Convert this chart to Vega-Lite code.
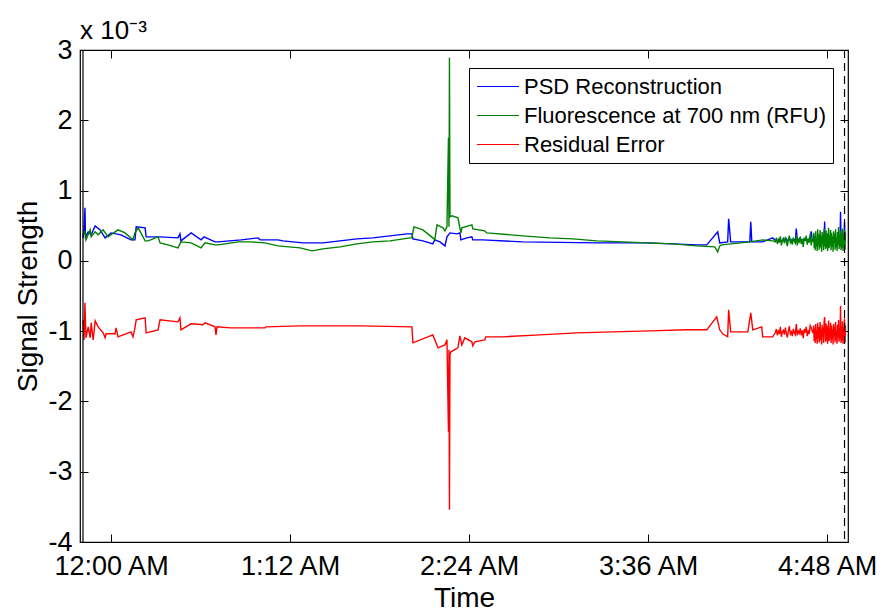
{
 "$schema": "https://vega.github.io/schema/vega-lite/v6.json",
 "width": 768,
 "height": 492,
 "autosize": {"type": "none"},
 "padding": {"left": 80, "top": 50, "right": 40, "bottom": 70},
 "background": "white",
 "config": {
  "font": "Liberation Sans",
  "view": {"stroke": "black", "strokeWidth": 1.2},
  "axis": {"grid": false, "domain": false, "tickColor": "black", "tickSize": -8, "labelColor": "black", "titleColor": "black", "labelFont": "Liberation Sans", "titleFont": "Liberation Sans", "labelFontSize": 27, "titleFontSize": 28, "titleFontWeight": "normal"}
 },
 "title": {"text": "x 10⁻³", "anchor": "start", "frame": "group", "fontSize": 26, "fontWeight": "normal", "font": "Liberation Sans", "color": "black", "offset": -8},
 "datasets": {
  "psd": [
   {"t":-11.3,"v":0.327},{"t":-10.9,"v":0.441},{"t":-10.5,"v":0.754},{"t":-10.3,"v":0.341},{"t":-9.2,"v":0.413},{"t":-8.0,"v":0.370},{"t":-6.4,"v":0.498},{"t":-4.4,"v":0.441},{"t":-2.4,"v":0.327},{"t":0,"v":0.398},{"t":4.0,"v":0.370},{"t":8.0,"v":0.299},{"t":9.6,"v":0.299},{"t":10.1,"v":0.484},{"t":13.7,"v":0.469},{"t":14.1,"v":0.341},{"t":19.7,"v":0.341},{"t":26.9,"v":0.327},{"t":27.7,"v":0.384},{"t":28.1,"v":0.284},{"t":32.2,"v":0.398},{"t":36.2,"v":0.299},{"t":37.4,"v":0.341},{"t":41.8,"v":0.270},{"t":43.0,"v":0.270},{"t":52.3,"v":0.299},{"t":59.1,"v":0.327},{"t":59.9,"v":0.299},{"t":67.1,"v":0.299},{"t":69.1,"v":0.284},{"t":77.2,"v":0.256},{"t":85.2,"v":0.256},{"t":92.1,"v":0.284},{"t":98.9,"v":0.313},{"t":105.3,"v":0.327},{"t":112.2,"v":0.356},{"t":119.0,"v":0.384},{"t":121.0,"v":0.384},{"t":121.4,"v":0.313},{"t":125.4,"v":0.284},{"t":129.4,"v":0.242},{"t":130.2,"v":0.299},{"t":132.3,"v":0.270},{"t":134.3,"v":0.213},{"t":135.1,"v":0.341},{"t":136.3,"v":0.398},{"t":139.1,"v":0.384},{"t":140.3,"v":0.398},{"t":140.7,"v":0.299},{"t":143.1,"v":0.327},{"t":145.1,"v":0.341},{"t":145.5,"v":0.299},{"t":149.5,"v":0.299},{"t":165.6,"v":0.270},{"t":195.4,"v":0.256},{"t":215.5,"v":0.256},{"t":235.6,"v":0.228},{"t":239.6,"v":0.228},{"t":244.0,"v":0.413},{"t":244.8,"v":0.256},{"t":248.0,"v":0.270},{"t":248.4,"v":0.597},{"t":249.2,"v":0.270},{"t":256.9,"v":0.270},{"t":257.3,"v":0.555},{"t":257.7,"v":0.270},{"t":262.1,"v":0.270},{"t":266.1,"v":0.327},
   {"t":267.2,"v":0.29},{"t":267.6,"v":0.30},{"t":268.0,"v":0.28},{"t":268.4,"v":0.29},{"t":268.8,"v":0.31},{"t":269.2,"v":0.30},{"t":269.6,"v":0.28},{"t":270.0,"v":0.29},{"t":270.4,"v":0.32},{"t":270.8,"v":0.30},{"t":271.2,"v":0.29},{"t":271.6,"v":0.31},{"t":272.0,"v":0.28},{"t":272.4,"v":0.30},{"t":272.8,"v":0.33},{"t":273.2,"v":0.29},{"t":273.6,"v":0.30},{"t":274.0,"v":0.28},{"t":274.4,"v":0.31},{"t":274.8,"v":0.30},{"t":275.2,"v":0.29},{"t":275.6,"v":0.46},{"t":276.0,"v":0.30},{"t":276.4,"v":0.29},{"t":276.8,"v":0.31},{"t":277.2,"v":0.33},{"t":277.6,"v":0.28},{"t":278.0,"v":0.30},{"t":278.4,"v":0.29},{"t":278.8,"v":0.31},{"t":279.2,"v":0.30},{"t":279.6,"v":0.32},{"t":280.0,"v":0.29},{"t":280.4,"v":0.30},{"t":280.8,"v":0.31},{"t":281.2,"v":0.34},{"t":281.6,"v":0.42},{"t":282.0,"v":0.30},{"t":282.4,"v":0.29},
   {"t":282.6,"v":0.30},{"t":282.8,"v":0.27},{"t":283.0,"v":0.32},{"t":283.2,"v":0.26},{"t":283.4,"v":0.33},{"t":283.6,"v":0.28},{"t":283.8,"v":0.31},{"t":284.0,"v":0.25},{"t":284.2,"v":0.34},{"t":284.4,"v":0.29},{"t":284.6,"v":0.31},{"t":284.8,"v":0.27},{"t":285.0,"v":0.30},{"t":285.2,"v":0.33},{"t":285.4,"v":0.28},{"t":285.6,"v":0.32},{"t":285.8,"v":0.26},{"t":286.0,"v":0.31},{"t":286.2,"v":0.29},{"t":286.4,"v":0.33},{"t":286.6,"v":0.27},{"t":286.8,"v":0.34},{"t":287.0,"v":0.56},{"t":287.2,"v":0.30},{"t":287.4,"v":0.28},{"t":287.6,"v":0.33},{"t":287.8,"v":0.27},{"t":288.0,"v":0.31},{"t":288.2,"v":0.26},{"t":288.4,"v":0.30},{"t":288.6,"v":0.35},{"t":288.8,"v":0.28},{"t":289.0,"v":0.32},{"t":289.2,"v":0.29},{"t":289.4,"v":0.34},{"t":289.6,"v":0.26},{"t":289.8,"v":0.31},{"t":290.0,"v":0.29},{"t":290.2,"v":0.33},{"t":290.4,"v":0.27},{"t":290.6,"v":0.32},{"t":290.8,"v":0.30},{"t":291.0,"v":0.34},{"t":291.2,"v":0.27},{"t":291.4,"v":0.33},{"t":291.6,"v":0.29},{"t":291.8,"v":0.31},{"t":292.0,"v":0.26},{"t":292.2,"v":0.33},{"t":292.4,"v":0.30},{"t":292.6,"v":0.35},{"t":292.8,"v":0.28},{"t":293.0,"v":0.32},{"t":293.2,"v":0.29},{"t":293.4,"v":0.70},{"t":293.6,"v":0.27},{"t":293.8,"v":0.31},{"t":294.0,"v":0.28},{"t":294.2,"v":0.34},{"t":294.4,"v":0.26},{"t":294.6,"v":0.32},{"t":294.8,"v":0.30},{"t":295.0,"v":0.55},{"t":295.2,"v":0.28},{"t":295.4,"v":0.31}
  ],
  "fl": [
   {"t":-11.3,"v":0.370},{"t":-10.5,"v":0.413},{"t":-10.1,"v":0.299},{"t":-8.4,"v":0.441},{"t":-8.0,"v":0.341},{"t":-6.4,"v":0.413},{"t":-5.2,"v":0.370},{"t":-3.2,"v":0.441},{"t":-1.2,"v":0.341},{"t":1.6,"v":0.413},{"t":2.8,"v":0.441},{"t":5.6,"v":0.398},{"t":8.8,"v":0.299},{"t":9.6,"v":0.398},{"t":10.9,"v":0.469},{"t":13.7,"v":0.284},{"t":14.9,"v":0.284},{"t":18.9,"v":0.341},{"t":19.7,"v":0.256},{"t":22.9,"v":0.228},{"t":26.9,"v":0.185},{"t":28.1,"v":0.270},{"t":32.2,"v":0.256},{"t":36.2,"v":0.185},{"t":37.8,"v":0.256},{"t":41.8,"v":0.228},{"t":43.0,"v":0.228},{"t":45.8,"v":0.242},{"t":51.1,"v":0.270},{"t":56.3,"v":0.270},{"t":61.9,"v":0.256},{"t":67.1,"v":0.213},{"t":76.0,"v":0.185},{"t":80.8,"v":0.142},{"t":85.2,"v":0.171},{"t":92.1,"v":0.199},{"t":98.9,"v":0.242},{"t":105.3,"v":0.270},{"t":112.2,"v":0.284},{"t":120.2,"v":0.327},{"t":121.0,"v":0.327},{"t":121.8,"v":0.484},{"t":125.4,"v":0.441},{"t":129.4,"v":0.327},{"t":130.2,"v":0.299},{"t":131.1,"v":0.512},{"t":133.5,"v":0.469},{"t":134.3,"v":0.427},{"t":135.1,"v":0.484},{"t":135.7,"v":1.750},{"t":135.9,"v":0.484},{"t":136.1,"v":2.888},{"t":136.3,"v":0.626},{"t":137.1,"v":0.640},{"t":139.5,"v":0.612},{"t":140.7,"v":0.398},{"t":141.1,"v":0.469},{"t":145.1,"v":0.512},{"t":145.5,"v":0.455},{"t":150.3,"v":0.427},{"t":151.1,"v":0.398},{"t":165.6,"v":0.356},{"t":176.5,"v":0.327},{"t":185.7,"v":0.313},{"t":195.4,"v":0.284},{"t":205.8,"v":0.270},{"t":215.5,"v":0.256},{"t":225.9,"v":0.242},{"t":235.6,"v":0.213},{"t":242.8,"v":0.199},{"t":244.0,"v":0.128},{"t":244.8,"v":0.213},{"t":245.6,"v":0.228},{"t":256.9,"v":0.270},{"t":262.1,"v":0.299},{"t":266.1,"v":0.284},
   {"t":267.2,"v":0.27},{"t":267.6,"v":0.33},{"t":268.0,"v":0.24},{"t":268.4,"v":0.30},{"t":268.8,"v":0.26},{"t":269.2,"v":0.35},{"t":269.6,"v":0.22},{"t":270.0,"v":0.29},{"t":270.4,"v":0.31},{"t":270.8,"v":0.25},{"t":271.2,"v":0.34},{"t":271.6,"v":0.27},{"t":272.0,"v":0.21},{"t":272.4,"v":0.30},{"t":272.8,"v":0.36},{"t":273.2,"v":0.26},{"t":273.6,"v":0.29},{"t":274.0,"v":0.23},{"t":274.4,"v":0.33},{"t":274.8,"v":0.28},{"t":275.2,"v":0.25},{"t":275.6,"v":0.37},{"t":276.0,"v":0.22},{"t":276.4,"v":0.30},{"t":276.8,"v":0.27},{"t":277.2,"v":0.34},{"t":277.6,"v":0.24},{"t":278.0,"v":0.31},{"t":278.4,"v":0.20},{"t":278.8,"v":0.33},{"t":279.2,"v":0.28},{"t":279.6,"v":0.36},{"t":280.0,"v":0.23},{"t":280.4,"v":0.30},{"t":280.8,"v":0.26},{"t":281.2,"v":0.38},{"t":281.6,"v":0.22},{"t":282.0,"v":0.31},{"t":282.4,"v":0.27},
   {"t":282.6,"v":0.40},{"t":282.8,"v":0.18},{"t":283.0,"v":0.36},{"t":283.2,"v":0.15},{"t":283.4,"v":0.42},{"t":283.6,"v":0.20},{"t":283.8,"v":0.33},{"t":284.0,"v":0.14},{"t":284.2,"v":0.45},{"t":284.4,"v":0.22},{"t":284.6,"v":0.38},{"t":284.8,"v":0.16},{"t":285.0,"v":0.30},{"t":285.2,"v":0.44},{"t":285.4,"v":0.19},{"t":285.6,"v":0.35},{"t":285.8,"v":0.13},{"t":286.0,"v":0.41},{"t":286.2,"v":0.24},{"t":286.4,"v":0.37},{"t":286.6,"v":0.15},{"t":286.8,"v":0.46},{"t":287.0,"v":0.21},{"t":287.2,"v":0.34},{"t":287.4,"v":0.17},{"t":287.6,"v":0.43},{"t":287.8,"v":0.19},{"t":288.0,"v":0.39},{"t":288.2,"v":0.14},{"t":288.4,"v":0.32},{"t":288.6,"v":0.47},{"t":288.8,"v":0.18},{"t":289.0,"v":0.36},{"t":289.2,"v":0.22},{"t":289.4,"v":0.44},{"t":289.6,"v":0.15},{"t":289.8,"v":0.40},{"t":290.0,"v":0.20},{"t":290.2,"v":0.35},{"t":290.4,"v":0.13},{"t":290.6,"v":0.42},{"t":290.8,"v":0.25},{"t":291.0,"v":0.38},{"t":291.2,"v":0.16},{"t":291.4,"v":0.45},{"t":291.6,"v":0.19},{"t":291.8,"v":0.33},{"t":292.0,"v":0.14},{"t":292.2,"v":0.41},{"t":292.4,"v":0.23},{"t":292.6,"v":0.48},{"t":292.8,"v":0.17},{"t":293.0,"v":0.36},{"t":293.2,"v":0.20},{"t":293.4,"v":0.43},{"t":293.6,"v":0.15},{"t":293.8,"v":0.39},{"t":294.0,"v":0.18},{"t":294.2,"v":0.46},{"t":294.4,"v":0.14},{"t":294.6,"v":0.37},{"t":294.8,"v":0.21},{"t":295.0,"v":0.44},{"t":295.2,"v":0.16},{"t":295.4,"v":0.40}
  ],
  "res": [
   {"t":-11.3,"v":-0.839},{"t":-10.9,"v":-1.124},{"t":-10.5,"v":-0.597},{"t":-10.1,"v":-1.095},{"t":-9.2,"v":-0.939},{"t":-8.4,"v":-1.095},{"t":-8.0,"v":-0.882},{"t":-7.2,"v":-1.124},{"t":-6.4,"v":-0.853},{"t":-5.2,"v":-0.939},{"t":-3.2,"v":-1.024},{"t":-2.4,"v":-1.095},{"t":-2.0,"v":-1.038},{"t":1.6,"v":-1.038},{"t":2.0,"v":-0.953},{"t":2.8,"v":-1.081},{"t":8.0,"v":-1.010},{"t":8.8,"v":-1.081},{"t":9.6,"v":-0.953},{"t":10.1,"v":-0.839},{"t":13.7,"v":-0.811},{"t":14.1,"v":-1.024},{"t":18.9,"v":-0.981},{"t":19.7,"v":-0.839},{"t":26.9,"v":-0.868},{"t":27.7,"v":-0.811},{"t":28.1,"v":-0.981},{"t":32.2,"v":-0.896},{"t":37.0,"v":-0.910},{"t":37.8,"v":-0.882},{"t":41.8,"v":-0.939},{"t":42.2,"v":-1.053},{"t":42.6,"v":-0.939},{"t":48.2,"v":-0.953},{"t":61.9,"v":-0.953},{"t":62.3,"v":-0.939},{"t":76.0,"v":-0.925},{"t":101.3,"v":-0.925},{"t":121.0,"v":-0.939},{"t":121.4,"v":-1.166},{"t":129.4,"v":-1.053},{"t":131.5,"v":-1.238},{"t":134.3,"v":-1.195},{"t":135.1,"v":-1.124},{"t":135.7,"v":-2.432},{"t":135.9,"v":-1.266},{"t":136.1,"v":-3.542},{"t":136.3,"v":-1.337},{"t":136.7,"v":-1.294},{"t":139.5,"v":-1.238},{"t":140.3,"v":-1.067},{"t":141.1,"v":-1.195},{"t":142.3,"v":-1.095},{"t":145.1,"v":-1.152},{"t":145.5,"v":-1.209},{"t":146.3,"v":-1.152},{"t":150.3,"v":-1.124},{"t":150.7,"v":-1.081},{"t":157.6,"v":-1.081},{"t":172.5,"v":-1.053},{"t":187.3,"v":-1.024},{"t":201.8,"v":-1.010},{"t":216.7,"v":-0.996},{"t":231.6,"v":-0.981},{"t":239.6,"v":-0.981},{"t":243.6,"v":-0.797},{"t":244.8,"v":-0.981},{"t":246.0,"v":-1.038},{"t":248.0,"v":-1.081},{"t":248.4,"v":-0.697},{"t":249.2,"v":-1.010},{"t":256.1,"v":-1.010},{"t":257.3,"v":-0.740},{"t":258.1,"v":-0.981},{"t":261.7,"v":-0.939},{"t":262.1,"v":-1.081},{"t":266.1,"v":-1.081},
   {"t":267.2,"v":-1.02},{"t":267.6,"v":-0.97},{"t":268.0,"v":-1.06},{"t":268.4,"v":-1.00},{"t":268.8,"v":-1.04},{"t":269.2,"v":-0.94},{"t":269.6,"v":-1.08},{"t":270.0,"v":-1.01},{"t":270.4,"v":-0.99},{"t":270.8,"v":-1.05},{"t":271.2,"v":-0.95},{"t":271.6,"v":-1.03},{"t":272.0,"v":-1.09},{"t":272.4,"v":-1.00},{"t":272.8,"v":-0.93},{"t":273.2,"v":-1.04},{"t":273.6,"v":-1.01},{"t":274.0,"v":-1.07},{"t":274.4,"v":-0.97},{"t":274.8,"v":-1.02},{"t":275.2,"v":-1.05},{"t":275.6,"v":-0.90},{"t":276.0,"v":-1.06},{"t":276.4,"v":-1.00},{"t":276.8,"v":-1.03},{"t":277.2,"v":-0.96},{"t":277.6,"v":-1.06},{"t":278.0,"v":-0.99},{"t":278.4,"v":-1.10},{"t":278.8,"v":-0.97},{"t":279.2,"v":-1.02},{"t":279.6,"v":-0.94},{"t":280.0,"v":-1.07},{"t":280.4,"v":-1.00},{"t":280.8,"v":-1.04},{"t":281.2,"v":-0.92},{"t":281.6,"v":-0.95},{"t":282.0,"v":-1.00},{"t":282.4,"v":-1.03},
   {"t":282.6,"v":-0.92},{"t":282.8,"v":-1.14},{"t":283.0,"v":-0.96},{"t":283.2,"v":-1.17},{"t":283.4,"v":-0.90},{"t":283.6,"v":-1.12},{"t":283.8,"v":-0.99},{"t":284.0,"v":-1.18},{"t":284.2,"v":-0.88},{"t":284.4,"v":-1.10},{"t":284.6,"v":-0.94},{"t":284.8,"v":-1.16},{"t":285.0,"v":-1.01},{"t":285.2,"v":-0.87},{"t":285.4,"v":-1.13},{"t":285.6,"v":-0.97},{"t":285.8,"v":-1.19},{"t":286.0,"v":-0.91},{"t":286.2,"v":-1.08},{"t":286.4,"v":-0.95},{"t":286.6,"v":-1.17},{"t":286.8,"v":-0.86},{"t":287.0,"v":-0.80},{"t":287.2,"v":-0.98},{"t":287.4,"v":-1.15},{"t":287.6,"v":-0.89},{"t":287.8,"v":-1.13},{"t":288.0,"v":-0.93},{"t":288.2,"v":-1.18},{"t":288.4,"v":-1.00},{"t":288.6,"v":-0.85},{"t":288.8,"v":-1.14},{"t":289.0,"v":-0.96},{"t":289.2,"v":-1.10},{"t":289.4,"v":-0.88},{"t":289.6,"v":-1.17},{"t":289.8,"v":-0.92},{"t":290.0,"v":-1.12},{"t":290.2,"v":-0.97},{"t":290.4,"v":-1.19},{"t":290.6,"v":-0.90},{"t":290.8,"v":-1.07},{"t":291.0,"v":-0.94},{"t":291.2,"v":-1.16},{"t":291.4,"v":-0.87},{"t":291.6,"v":-1.13},{"t":291.8,"v":-0.99},{"t":292.0,"v":-1.18},{"t":292.2,"v":-0.91},{"t":292.4,"v":-1.09},{"t":292.6,"v":-0.84},{"t":292.8,"v":-1.15},{"t":293.0,"v":-0.96},{"t":293.2,"v":-1.12},{"t":293.4,"v":-0.64},{"t":293.6,"v":-1.17},{"t":293.8,"v":-0.93},{"t":294.0,"v":-1.14},{"t":294.2,"v":-0.86},{"t":294.4,"v":-1.18},{"t":294.6,"v":-0.95},{"t":294.8,"v":-1.11},{"t":295.0,"v":-0.82},{"t":295.2,"v":-1.16},{"t":295.4,"v":-0.92}
  ],
  "markers": [{"t": -11.3, "kind": "start"}, {"t": 295.0, "kind": "end"}]
 },
 "resolve": {"axis": {"x": "independent", "y": "independent"}},
 "layer": [
  {
   "data": {"name": "psd"},
   "mark": {"type": "line", "strokeWidth": 1.4, "clip": true},
   "encoding": {
    "x": {"field": "t", "type": "quantitative", "scale": {"domain": [-12.5, 296.4], "nice": false, "zero": false},
          "axis": {"orient": "bottom", "values": [0, 72, 144, 216, 288], "labelExpr": "timeFormat(datetime(2000, 0, 1, 0, datum.value), '%-I:%M %p')", "labelFlush": false, "labelOverlap": false, "labelPadding": 19, "title": "Time", "titlePadding": 5}},
    "y": {"field": "v", "type": "quantitative", "scale": {"domain": [-4, 3], "nice": false, "zero": false},
          "axis": {"orient": "left", "values": [-4, -3, -2, -1, 0, 1, 2, 3], "labelExpr": "'' + datum.value", "labelFlush": false, "labelOverlap": false, "labelPadding": 16, "title": "Signal Strength", "titlePadding": 5}},
    "color": {"datum": "PSD Reconstruction", "type": "nominal",
              "scale": {"domain": ["PSD Reconstruction", "Fluorescence at 700 nm (RFU)", "Residual Error"], "range": ["#0000ff", "#008000", "#ff0000"]},
              "legend": {"orient": "none", "legendX": 389, "legendY": 18, "title": null, "strokeColor": "black", "fillColor": "white", "padding": 7, "symbolType": "M-1,0L3,0", "symbolSize": 441, "symbolStrokeWidth": 1.2, "labelFontSize": 22, "labelFont": "Liberation Sans", "labelColor": "black", "labelOffset": 25, "labelLimit": 0, "rowPadding": 6}}
   }
  },
  {
   "data": {"name": "fl"},
   "mark": {"type": "line", "strokeWidth": 1.4, "clip": true},
   "encoding": {
    "x": {"field": "t", "type": "quantitative", "axis": {"orient": "top", "values": [0, 72, 144, 216, 288], "labels": false, "title": null}},
    "y": {"field": "v", "type": "quantitative", "axis": {"orient": "right", "values": [-4, -3, -2, -1, 0, 1, 2, 3], "labels": false, "title": null}},
    "color": {"datum": "Fluorescence at 700 nm (RFU)", "type": "nominal"}
   }
  },
  {
   "data": {"name": "res"},
   "mark": {"type": "line", "strokeWidth": 1.4, "clip": true},
   "encoding": {
    "x": {"field": "t", "type": "quantitative", "axis": null},
    "y": {"field": "v", "type": "quantitative", "axis": null},
    "color": {"datum": "Residual Error", "type": "nominal"}
   }
  },
  {
   "data": {"name": "markers"},
   "transform": [{"filter": "datum.kind == 'start'"}],
   "mark": {"type": "rule", "color": "black", "strokeWidth": 1.2},
   "encoding": {"x": {"field": "t", "type": "quantitative", "axis": null}}
  },
  {
   "data": {"name": "markers"},
   "transform": [{"filter": "datum.kind == 'end'"}],
   "mark": {"type": "rule", "color": "black", "strokeWidth": 1.2, "strokeDash": [8, 5]},
   "encoding": {"x": {"field": "t", "type": "quantitative", "axis": null}}
  }
 ]
}
